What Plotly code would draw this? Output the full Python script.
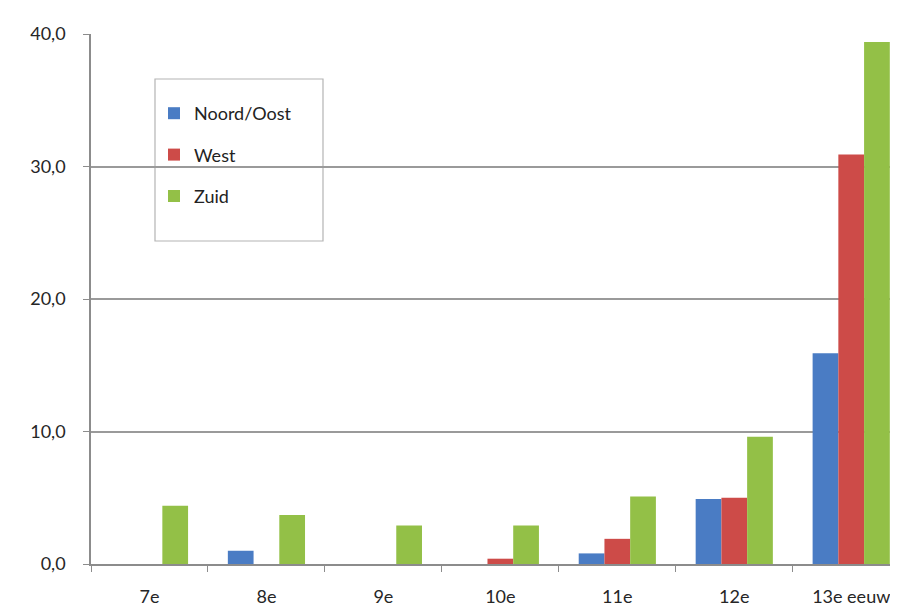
import plotly.graph_objects as go

# ── Data ────────────────────────────────────────────────────────────────
categories = ['7e', '8e', '9e', '10e', '11e', '12e', '13e eeuw']
noord_oost = [0.0, 1.0, 0.0, 0.0, 0.8, 4.9, 15.9]
west       = [0.0, 0.0, 0.0, 0.4, 1.9, 5.0, 30.9]
zuid       = [4.4, 3.7, 2.9, 2.9, 5.1, 9.6, 39.4]

series = [
    ('Noord/Oost', noord_oost, '#4a7cc4'),
    ('West',       west,       '#cd4b48'),
    ('Zuid',       zuid,       '#93c047'),
]

FONT = 'Lato, Open Sans, sans-serif'

# page body has an 8px margin, so figure coords = page coords - 8
L, T, B = 83, 26, 49
PW, PH = 807, 530

fig = go.Figure()
for i, (name, vals, color) in enumerate(series):
    fig.add_trace(go.Bar(
        x=categories,
        y=vals,
        name=name,
        marker=dict(color=color, line=dict(width=0)),
        legendgroup=f'g{i}',
    ))

fig.update_layout(
    width=890,
    height=605,
    barmode='group',
    bargap=0.34,
    bargroupgap=0,
    separators=',.',
    paper_bgcolor='white',
    plot_bgcolor='white',
    margin=dict(l=L, r=0, t=T, b=B),
    font=dict(family=FONT, size=17, color='#262626'),
    legend=dict(
        x=(154 - 91) / PW, y=(564 - 95) / PH,
        xanchor='left', yanchor='top',
        bgcolor='rgba(0,0,0,0)',
        borderwidth=0,
        traceorder='grouped',
        tracegroupgap=15,
        itemwidth=30,
        font=dict(family=FONT, size=18, color='#222222'),
    ),
    shapes=[dict(
        type='rect', xref='paper', yref='paper',
        x0=(155 - 91) / PW, x1=(323 - 91) / PW,
        y0=(564 - 241) / PH, y1=(564 - 79) / PH,
        line=dict(color='#b4b4b4', width=1.2),
        fillcolor='white', layer='below',
    )],
)

fig.update_xaxes(
    range=[-0.5, 6.4],
    showline=True, linecolor='#8c8c8c', linewidth=1.5,
    ticks='outside', tickson='boundaries', ticklen=6, tickcolor='#8c8c8c',
    ticklabelstandoff=16,
    showgrid=False,
    tickfont=dict(family=FONT, size=18, color='#262626'),
)
fig.update_yaxes(
    range=[0, 40],
    tickvals=[0, 10, 20, 30, 40],
    tickformat='.1f',
    showline=True, linecolor='#8c8c8c', linewidth=1.5,
    ticks='outside', ticklen=6, tickcolor='#8c8c8c',
    ticklabelstandoff=14,
    showgrid=True, gridcolor='#9a9a9a', gridwidth=1.5,
    zeroline=False,
    tickfont=dict(family=FONT, size=18, color='#262626'),
)

fig.write_html('out.html')
